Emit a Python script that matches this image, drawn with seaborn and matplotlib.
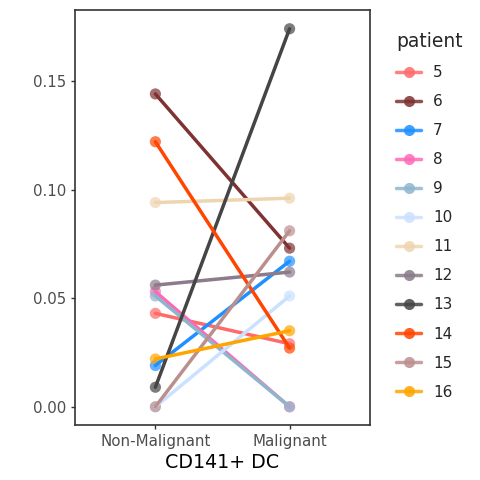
import pandas as pd
import matplotlib
matplotlib.use('Agg')
import matplotlib.pyplot as plt
import seaborn as sns
from matplotlib.lines import Line2D

# 数据
tissues = ['Non-Malignant', 'Malignant']
patients = ['5', '6', '7', '8', '9', '10', '11', '12', '13', '14', '15', '16']
non_malignant = [0.043, 0.144, 0.019, 0.053, 0.051, 0.000, 0.094, 0.056, 0.009, 0.122, 0.000, 0.022]
malignant = [0.029, 0.073, 0.067, 0.000, 0.000, 0.051, 0.096, 0.062, 0.174, 0.027, 0.081, 0.035]
colors = ['#FF6A6A', '#7F3232', '#1E90FF', '#FF69B4', '#8DB6CD', '#CAE1FF',
          '#EED5B0', '#8B7B8B', '#454545', '#FF4500', '#BC8F8F', '#FFA500']

df = pd.DataFrame({
    'patient': patients * 2,
    'tissue': [tissues[0]] * len(patients) + [tissues[1]] * len(patients),
    'value': non_malignant + malignant,
})
df['x'] = df['tissue'].map({t: i for i, t in enumerate(tissues)})
palette = dict(zip(patients, colors))

sns.set_style('white')
fig = plt.figure(figsize=(4.8, 4.8), dpi=100)
ax = fig.add_axes([0.156, 0.115, 0.615, 0.864])

# 连线 + 半透明的点
sns.lineplot(data=df, x='x', y='value', hue='patient', hue_order=patients,
             palette=palette, linewidth=2.5, legend=False, ax=ax, estimator=None,
             units='patient')
sns.scatterplot(data=df, x='x', y='value', hue='patient', hue_order=patients,
                palette=palette, s=65, alpha=0.7, linewidth=0, legend=False, ax=ax)

ax.set_xlim(-0.6, 1.6)
ax.set_ylim(-0.0083, 0.1826)
ax.set_xticks([0, 1])
ax.set_xticklabels(tissues)
ax.set_yticks([0, 0.05, 0.10, 0.15])
ax.set_yticklabels(['0.00', '0.05', '0.10', '0.15'])
ax.tick_params(axis='both', colors='#333333', labelcolor='#4D4D4D',
               labelsize=10.8, length=3, width=1, left=True, bottom=True)
ax.set_xlabel('CD141+ DC', fontsize=13.7, color='black', labelpad=3)
ax.set_ylabel('')
for sp in ax.spines.values():
    sp.set_color('#333333')
    sp.set_linewidth(1.2)
ax.grid(False)

handles = [Line2D([0], [0], color=c, linewidth=2.5, marker='o', markersize=8,
                  markerfacecolor=c, markeredgewidth=0, alpha=0.85) for c in colors]
leg = fig.legend(handles, patients, title='patient', loc='upper left',
                 bbox_to_anchor=(0.797, 0.962), frameon=False, fontsize=11,
                 title_fontsize=13.5, handlelength=1.6, labelspacing=0.92,
                 handletextpad=0.8, alignment='left')

fig.savefig('out.png', dpi=100)
